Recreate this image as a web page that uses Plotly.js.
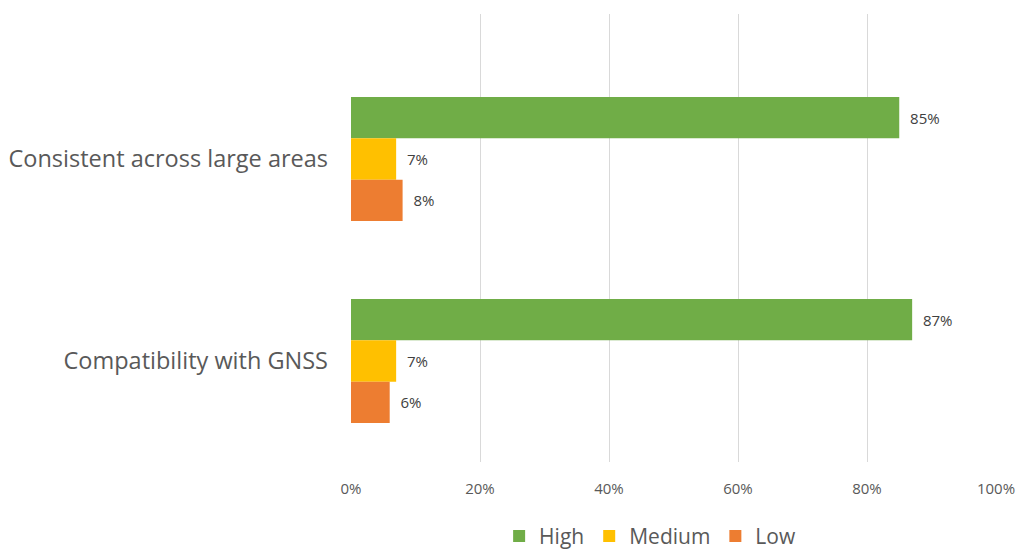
<!DOCTYPE html>
<html>
<head>
<meta charset="utf-8">
<script src="https://cdn.plot.ly/plotly-3.0.1.min.js"></script>
<style>html,body{margin:0;padding:0;background:#fff;}#chart{width:1019px;height:550px;}</style>
</head>
<body>
<div id="chart"></div>
<script>
var categories = ["Consistent across large areas", "Compatibility with GNSS"];
var seriesNames = ["High", "Medium", "Low"];
var high = [85, 87];
var medium = [7, 7];
var low = [8, 6];
var tickValues = [0, 20, 40, 60, 80, 100];
var tickLabels = ["0%", "20%", "40%", "60%", "80%", "100%"];
var colors = ["#70AD47", "#FFC000", "#ED7D31"];
var seriesValues = [high, medium, low];

var font = "Open Sans, Noto Sans, sans-serif";
var traces = seriesNames.map(function(name, i) {
  return {
    type: "bar",
    orientation: "h",
    name: name,
    y: categories,
    x: seriesValues[i],
    marker: {color: colors[i]},
    text: seriesValues[i].map(function(v){return "\u00a0\u00a0" + v + "%";}),
    textposition: "outside",
    cliponaxis: false,
    textfont: {family: font, size: 15, color: "#404040"},
    hoverinfo: "x+name"
  };
});

var layout = {
  width: 1019, height: 550,
  margin: {l: 351, r: 23, t: 14, b: 88},
  paper_bgcolor: "#fff", plot_bgcolor: "#fff",
  barmode: "group",
  bargap: 0.386,
  bargroupgap: 0,
  font: {family: font, color: "#595959"},
  xaxis: {
    range: [0, 100],
    tickmode: "array",
    tickvals: tickValues,
    ticktext: tickLabels,
    showgrid: true, gridcolor: "#D9D9D9", gridwidth: 1,
    zeroline: false, showline: false,
    tickfont: {family: font, size: 15, color: "#595959"},
    ticks: "",
    ticklabelstandoff: 16
  },
  yaxis: {
    range: [1.5, -0.718],
    showgrid: false, zeroline: false, showline: false,
    tickfont: {family: font, size: 23.5, color: "#595959"},
    ticks: "", ticklen: 0, automargin: false,
    ticklabelstandoff: 22
  },
  showlegend: true,
  legend: {
    orientation: "h",
    xref: "container", yref: "container",
    x: 0.638, xanchor: "center",
    y: 0.025, yanchor: "middle",
    font: {family: font, size: 21, color: "#595959"},
    itemwidth: 20
  }
};

Plotly.newPlot("chart", traces, layout, {displayModeBar: false, staticPlot: true});
</script>
</body>
</html>
